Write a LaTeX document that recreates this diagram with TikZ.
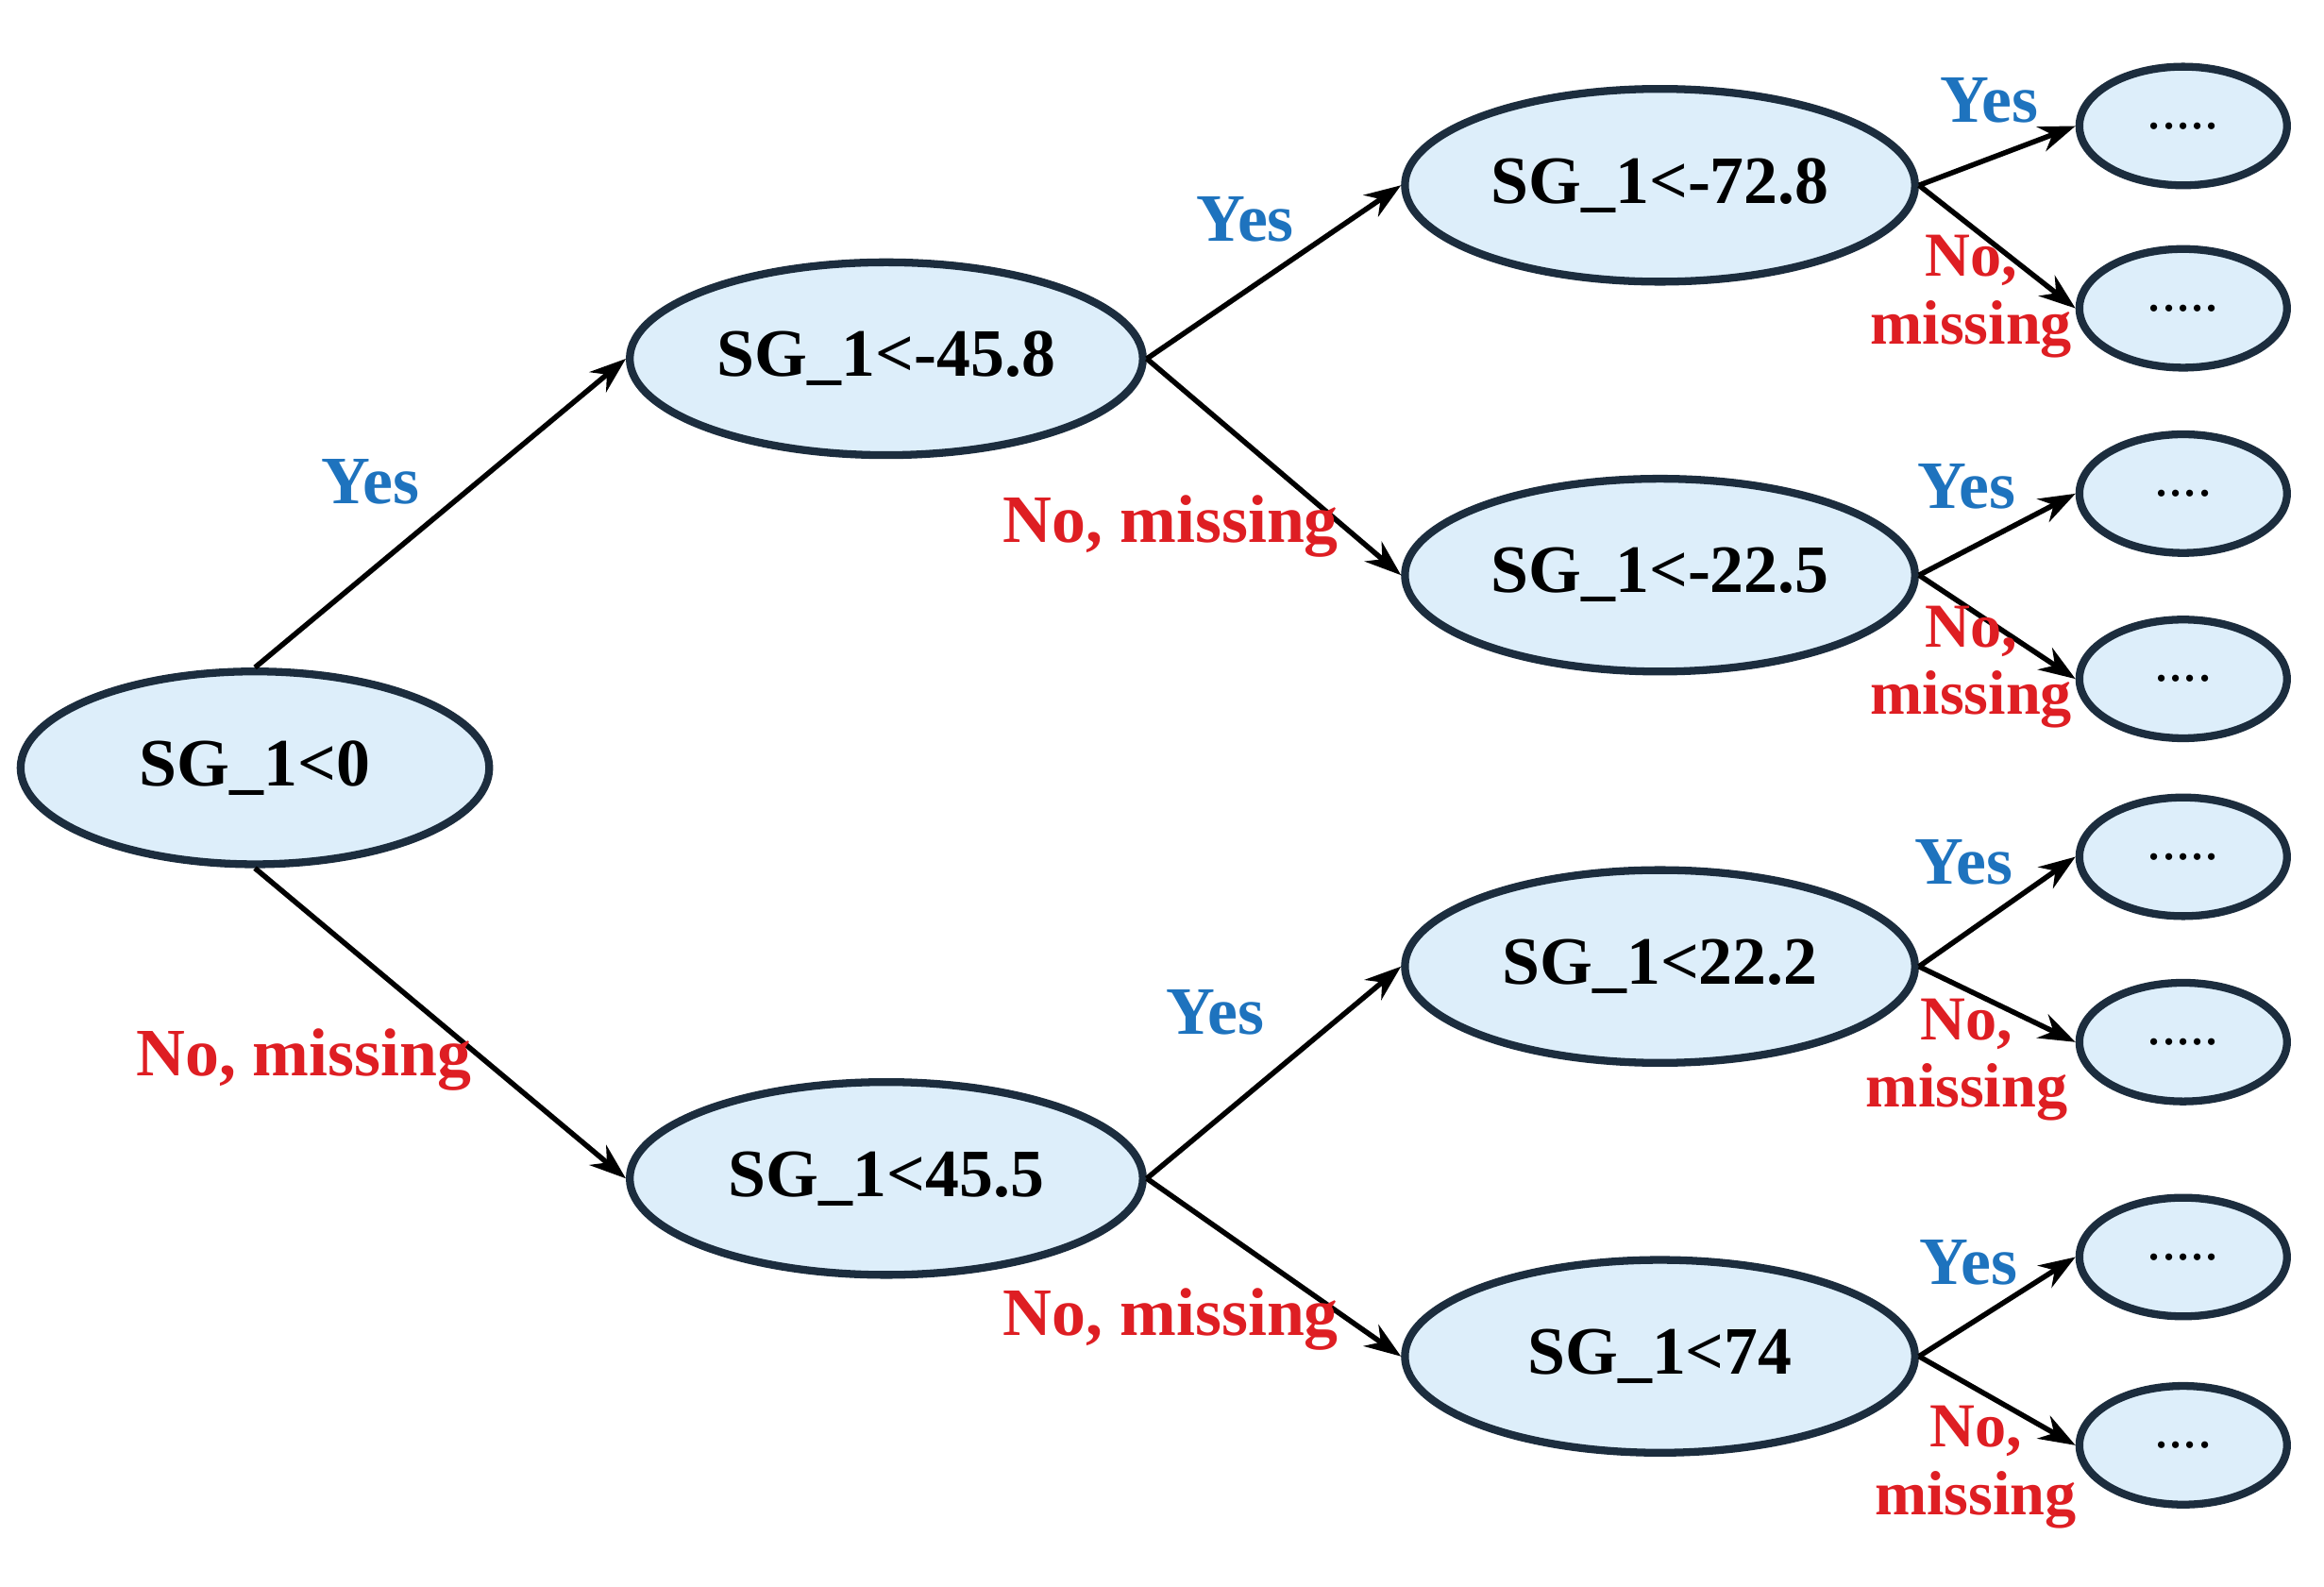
\documentclass[tikz,border=0pt]{standalone}
\usepackage{fontspec}
\setmainfont{Liberation Serif}
\usetikzlibrary{shapes.geometric,arrows.meta}
\definecolor{fillb}{RGB}{221,238,250}
\definecolor{edgeb}{RGB}{28,45,62}
\definecolor{yesb}{RGB}{30,115,190}
\definecolor{nor}{RGB}{222,30,35}
\tikzset{
 el/.style={ellipse,draw=edgeb,line width=1.5pt,fill=fillb,inner sep=0pt,font=\bfseries\fontsize{13}{15}\selectfont},
 big/.style={el,minimum width=3.3cm,minimum height=1.3cm},
 leaf/.style={el,minimum width=1.4cm,minimum height=0.8cm,font=\fontsize{11}{13}\selectfont},
 conn/.style={-{Stealth[length=7pt,width=5pt]},line width=1pt,black},
 yl/.style={text=yesb,font=\bfseries\fontsize{13}{15}\selectfont},
 nl/.style={text=nor,font=\bfseries\fontsize{13}{15}\selectfont,align=center},
 nls/.style={text=nor,font=\bfseries\fontsize{12}{13}\selectfont,align=center}
}
\begin{document}
\begin{tikzpicture}[x=0.01cm,y=-0.01cm]
\useasboundingbox (0,0) rectangle (1568,1070);
\node[big,minimum width=3.16cm] (r) at (172,518) {SG\_1<0};
\node[big,minimum width=3.46cm] (a) at (598,242) {SG\_1<-45.8};
\node[big,minimum width=3.46cm] (b) at (598,795) {SG\_1<45.5};
\node[big,minimum width=3.44cm] (c1) at (1120,125) {SG\_1<-72.8};
\node[big,minimum width=3.44cm] (c2) at (1120,388) {SG\_1<-22.5};
\node[big,minimum width=3.44cm] (c3) at (1120,652) {SG\_1<22.2};
\node[big,minimum width=3.44cm] (c4) at (1120,915) {SG\_1<74};
\node[leaf] (l1) at (1473,85) {.....};
\node[leaf] (l2) at (1473,208) {.....};
\node[leaf] (l3) at (1473,333) {....};
\node[leaf] (l4) at (1473,458) {....};
\node[leaf] (l5) at (1473,578) {.....};
\node[leaf] (l6) at (1473,703) {.....};
\node[leaf] (l7) at (1473,848) {.....};
\node[leaf] (l8) at (1473,975) {....};
\draw[conn] (r.north) -- (a.west);
\draw[conn] (r.south) -- (b.west);
\draw[conn] (a.east) -- (c1.west);
\draw[conn] (a.east) -- (c2.west);
\draw[conn] (b.east) -- (c3.west);
\draw[conn] (b.east) -- (c4.west);
\draw[conn] (c1.east) -- (l1.west);
\draw[conn] (c1.east) -- (l2.west);
\draw[conn] (c2.east) -- (l3.west);
\draw[conn] (c2.east) -- (l4.west);
\draw[conn] (c3.east) -- (l5.west);
\draw[conn] (c3.east) -- (l6.west);
\draw[conn] (c4.east) -- (l7.west);
\draw[conn] (c4.east) -- (l8.west);
\node[yl] (t1) at (250,325) {Yes};
\node[nl] (t2) at (205,715) {No, missing};
\node[yl] (t3) at (840,148) {Yes};
\node[nl] (t4) at (790,355) {No, missing};
\node[yl] (t5) at (820,683) {Yes};
\node[nl] (t6) at (790,890) {No, missing};
\node[yl] (t7) at (1342,68) {Yes};
\node[nls] (t8) at (1330,200) {No,\\missing};
\node[yl] (t9) at (1327,328) {Yes};
\node[nls] (t10) at (1330,450) {No,\\missing};
\node[yl] (t11) at (1325,582) {Yes};
\node[nls] (t12) at (1327,715) {No,\\missing};
\node[yl] (t13) at (1328,852) {Yes};
\node[nls] (t14) at (1333,990) {No,\\missing};
\end{tikzpicture}
\end{document}
